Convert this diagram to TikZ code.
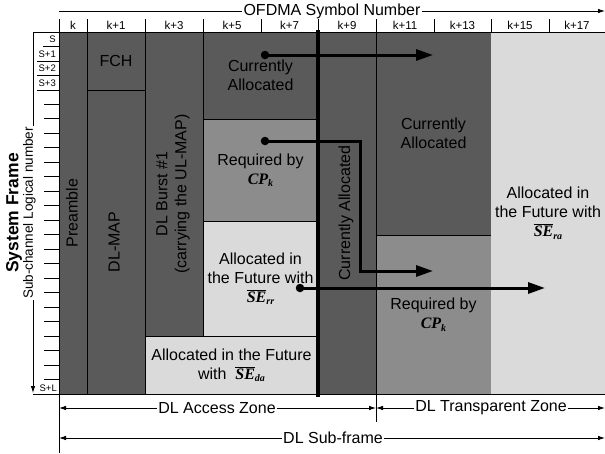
\documentclass[tikz,border=0pt]{standalone}
\usepackage{fontspec}
\setmainfont{Liberation Sans}
\newfontfamily\tms{Liberation Serif}
\usetikzlibrary{arrows.meta}
\definecolor{dk}{HTML}{5A5A5A}
\definecolor{md}{HTML}{8C8C8C}
\definecolor{lt}{HTML}{DADADA}
\newcommand\SEx[1]{$\overline{\hbox{\tms\bfseries\itshape SE}}$\raisebox{-2.5pt}{\tms\bfseries\itshape\fontsize{10}{10}\selectfont #1}}
\newcommand\CPk{{\tms\bfseries\itshape CP\raisebox{-2.5pt}{\fontsize{10}{10}\selectfont k}}}
\begin{document}
\begin{tikzpicture}[x=1pt,y=-1pt,
 blk/.style={draw=black, line width=0.9pt, anchor=north west, outer sep=0pt, inner sep=0pt},
 txt/.style={font=\fontsize{16}{19}\selectfont, align=center, inner sep=0pt},
 hdr/.style={font=\fontsize{11.5}{12}\selectfont, inner sep=0pt},
 rowl/.style={font=\fontsize{9.5}{10}\selectfont, inner sep=0pt, anchor=east},
 flow/.style={line width=3pt, -{Triangle[length=17pt,width=11pt]}},
 dimtip/.style={line width=0.8pt, -{Latex[length=7pt,width=4.5pt]}},
 dimlbl/.style={font=\fontsize{16}{19}\selectfont, fill=white, inner xsep=1pt, inner ysep=0pt},
 dot/.style={circle, fill=black, inner sep=0pt, minimum size=8.5pt}
]
\useasboundingbox (0,0) rectangle (605,453);

% blocks
\node[blk, fill=dk, minimum width=28pt,  minimum height=362pt] (pre)   at (59,32)  {};
\node[blk, fill=dk, minimum width=58pt,  minimum height=58pt]  (fch)   at (87,32)  {};
\node[blk, fill=dk, minimum width=58pt,  minimum height=304pt] (dlmap) at (87,90)  {};
\node[blk, fill=dk, minimum width=58pt,  minimum height=304pt] (burst) at (145,32) {};
\node[blk, fill=dk, minimum width=115pt, minimum height=87pt]  (ca1)   at (203,32) {};
\node[blk, fill=md, minimum width=115pt, minimum height=102pt] (req1)  at (203,119){};
\node[blk, fill=lt, minimum width=115pt, minimum height=115pt] (fut1)  at (203,221){};
\node[blk, fill=lt, minimum width=173pt, minimum height=58pt]  (futda) at (145,336){};
\node[blk, fill=dk, minimum width=58pt,  minimum height=362pt] (ca2)   at (318,32) {};
\node[blk, fill=dk, minimum width=115pt, minimum height=203pt] (ca3)   at (376,32) {};
\node[blk, fill=md, minimum width=115pt, minimum height=159pt] (req2)  at (376,235){};
\node[blk, fill=lt, draw=none, minimum width=114pt, minimum height=362pt] (futra) at (491,32) {};
\draw[line width=0.9pt] (33,32) -- (605,32);
\draw[line width=0.9pt] (33,394) -- (605,394);

% block texts
\node[txt, rotate=90] at (72,213) {Preamble};
\node[txt] at (fch.center) {FCH};
\node[txt, rotate=90] at (114,242) {DL-MAP};
\node[txt, rotate=90] at (173,194) {DL Burst \#1\\(carrying the UL-MAP)};
\node[txt] at (ca1.center) {Currently\\Allocated};
\node[txt] at (req1.center) {Required by\\\CPk};
\node[txt] at (fut1.center) {Allocated in\\the Future with\\\SEx{rr}};
\node[txt] at (futda.center) {Allocated in the Future\\with\ \ \SEx{da}};
\node[txt, rotate=90] at (346,213) {Currently Allocated};
\node[txt] at (ca3.center) {Currently\\Allocated};
\node[txt] at (req2.center) {Required by\\\CPk};
\node[txt] at (futra.center) {Allocated in\\the Future with\\\SEx{ra}};

% thick boundary
\draw[line width=3.6pt] (318,30) -- (318,397);

% header
\foreach \x in {59,87,145,203,261,318,376,434,491,549}
  \draw[line width=0.8pt] (\x,19) -- (\x,32);
\foreach \x/\t [count=\i] in {73/k,116/k+1,174/k+3,232/k+5,289.5/k+7,347/k+9,405/k+11,462.5/k+13,520/k+15,577/k+17}
  \node[hdr] (h\i) at (\x,25) {\t};
\coordinate (oL) at (59,11);
\coordinate (oR) at (605,11);
\node[dimlbl] (ofdma) at (332,11) {OFDMA Symbol Number};
\draw[line width=0.8pt] (oL) -- (ofdma.west);
\draw[dimtip] (ofdma.east) -- (oR);

% left axis
\foreach \i in {1,...,24} {
  \pgfmathsetmacro\yy{32+14.48*\i}
  \ifnum\i=1 \def\xs{43}\else\ifnum\i<5 \def\xs{37}\else\def\xs{44}\fi\fi
  \draw[line width=0.8pt] (\xs,\yy) -- (59,\yy);
}
\node[rowl] (s0) at (56,39.5) {S};
\node[rowl] (s1) at (56,54) {S+1};
\node[rowl] (s2) at (56,68.5) {S+2};
\node[rowl] (s3) at (56,83) {S+3};
\node[rowl] (sL) at (57,388) {S+L};
\coordinate (axT) at (33,32);
\coordinate (axB) at (33,393);
\node[font=\fontsize{13.5}{14}\selectfont, rotate=90, inner xsep=1pt, inner ysep=0pt] (scl) at (29.5,213) {Sub-channel Logical number};
\draw[line width=0.8pt] (axT) -- (axT |- scl.east);
\draw[dimtip] (axT |- scl.west) -- (axB);
\node[font=\fontsize{17.5}{18}\selectfont\bfseries, rotate=90, inner sep=0pt] (sysf) at (14,213) {System Frame};

% flow arrows
\node[dot] (d1) at (265,55) {};
\node[dot] (d2) at (265,141) {};
\node[dot] (d3) at (300,288) {};
\coordinate (e1) at (433,55);
\coordinate (b2) at (360,141);
\coordinate (c2) at (360,271);
\coordinate (e2) at (433,271);
\coordinate (e3) at (545,288);
\draw[flow] (d1.center) -- (e1);
\draw[flow, line join=miter] (d2.center) -- (b2) -- (c2) -- (e2);
\draw[flow] (d3.center) -- (e3);

% bottom dimensions
\draw[line width=0.8pt] (59,394) -- (59,453);
\draw[line width=0.8pt] (376,394) -- (376,422);
\coordinate (aL) at (59,408);
\coordinate (aR) at (376,408);
\coordinate (tR) at (605,408);
\coordinate (sfL) at (59,438);
\coordinate (sfR) at (605,438);
\node[dimlbl] (daz) at (217,408) {DL Access Zone};
\node[dimlbl] (dtz) at (491,408) {DL Transparent Zone};
\node[dimlbl] (dsf) at (333,438) {DL Sub-frame};
\draw[dimtip] (daz.west) -- (aL);
\draw[dimtip] (daz.east) -- (aR);
\draw[dimtip] (dtz.west) -- (aR);
\draw[dimtip] (dtz.east) -- (tR);
\draw[dimtip] (dsf.west) -- (sfL);
\draw[dimtip] (dsf.east) -- (sfR);
\end{tikzpicture}
\end{document}
